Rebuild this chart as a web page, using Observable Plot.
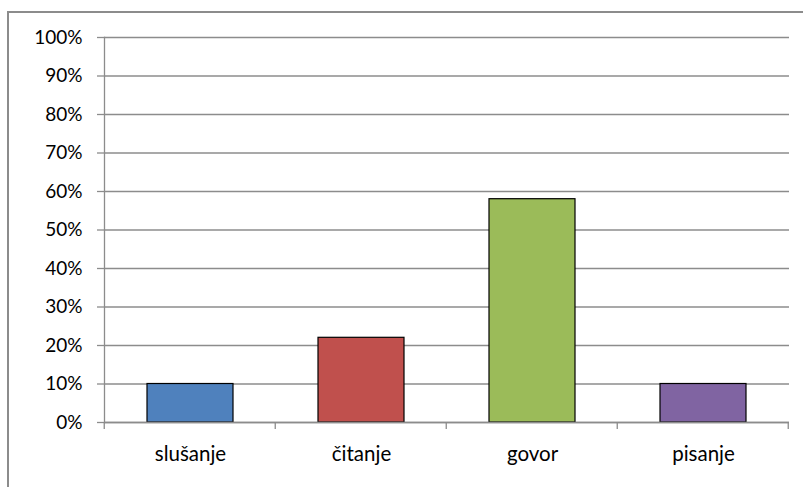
<!DOCTYPE html>
<html>
<head>
<meta charset="utf-8">
<script src="https://cdn.jsdelivr.net/npm/d3@7"></script>
<script src="https://cdn.jsdelivr.net/npm/@observablehq/plot@0.6"></script>
<style>
  html, body { margin: 0; padding: 0; background: #fff; overflow: hidden; }
  #wrap { position: relative; width: 803px; height: 487px; overflow: hidden; }
  #frame { position: absolute; left: 7px; top: 11px; width: 900px; height: 600px;
           border-left: 2px solid #8c8c8c; border-top: 2px solid #8c8c8c; }
  #chart { position: absolute; left: 0; top: 0; }
</style>
</head>
<body>
<div id="wrap"><div id="frame"></div><div id="chart"></div></div>
<script>
const categories = ["slušanje", "čitanje", "govor", "pisanje"];
const values = [0.10, 0.22, 0.58, 0.10];
const colors = ["#4F81BD", "#C0504D", "#9BBB59", "#8064A2"];
const yTicks = [0, 0.1, 0.2, 0.3, 0.4, 0.5, 0.6, 0.7, 0.8, 0.9, 1.0];

const data = categories.map((c, i) => ({category: c, value: values[i], color: colors[i]}));
const PAD_INNER = 0.5;
const gray = "#8c8c8c";
const font = "Lato, 'DejaVu Sans', sans-serif";

// category boundary tick marks drawn from the band scale
function boundaryTicks(index, scales, values, dims) {
  const x = scales.x, y = scales.y;
  const step = x(categories[1]) - x(categories[0]);
  const bw = step * (1 - PAD_INNER);
  const pos = categories.map(c => x(c) + bw / 2 - step / 2);
  pos.push(x(categories[categories.length - 1]) + bw / 2 + step / 2);
  const y0 = y(0);
  const g = d3.create("svg:g");
  g.selectAll("line").data(pos).join("line")
    .attr("x1", d => d).attr("x2", d => d)
    .attr("y1", y0).attr("y2", y0 + 7)
    .attr("stroke", gray).attr("stroke-width", 1.3);
  return g.node();
}

const chart = Plot.plot({
  width: 803,
  height: 487,
  marginLeft: 104,
  marginRight: 14,
  marginTop: 37,
  marginBottom: 65,
  style: {fontFamily: font, fontSize: "19px", color: "#000", background: "transparent"},
  x: {domain: categories, paddingInner: PAD_INNER, paddingOuter: PAD_INNER / 2, label: null},
  y: {domain: [0, 1], label: null},
  marks: [
    Plot.gridY(yTicks, {stroke: gray, strokeOpacity: 1, strokeWidth: 1.3}),
    Plot.axisY(yTicks, {tickFormat: d3.format(".0%"), tickSize: 7, tickPadding: 15,
      stroke: gray, strokeWidth: 1.3, fill: "#000", fontSize: 19, label: null}),
    Plot.axisX({tickSize: 0, tickPadding: 24, fill: "#000", fontSize: 20.5, label: null}),
    Plot.barY(data, {x: "category", y: "value", fill: "color", stroke: "#000", strokeWidth: 1.2}),
    Plot.frame({anchor: "left", stroke: gray, strokeWidth: 1.3}),
    Plot.ruleY([0], {stroke: gray, strokeWidth: 1.3}),
    boundaryTicks
  ]
});
document.getElementById("chart").appendChild(chart);
</script>
</body>
</html>
